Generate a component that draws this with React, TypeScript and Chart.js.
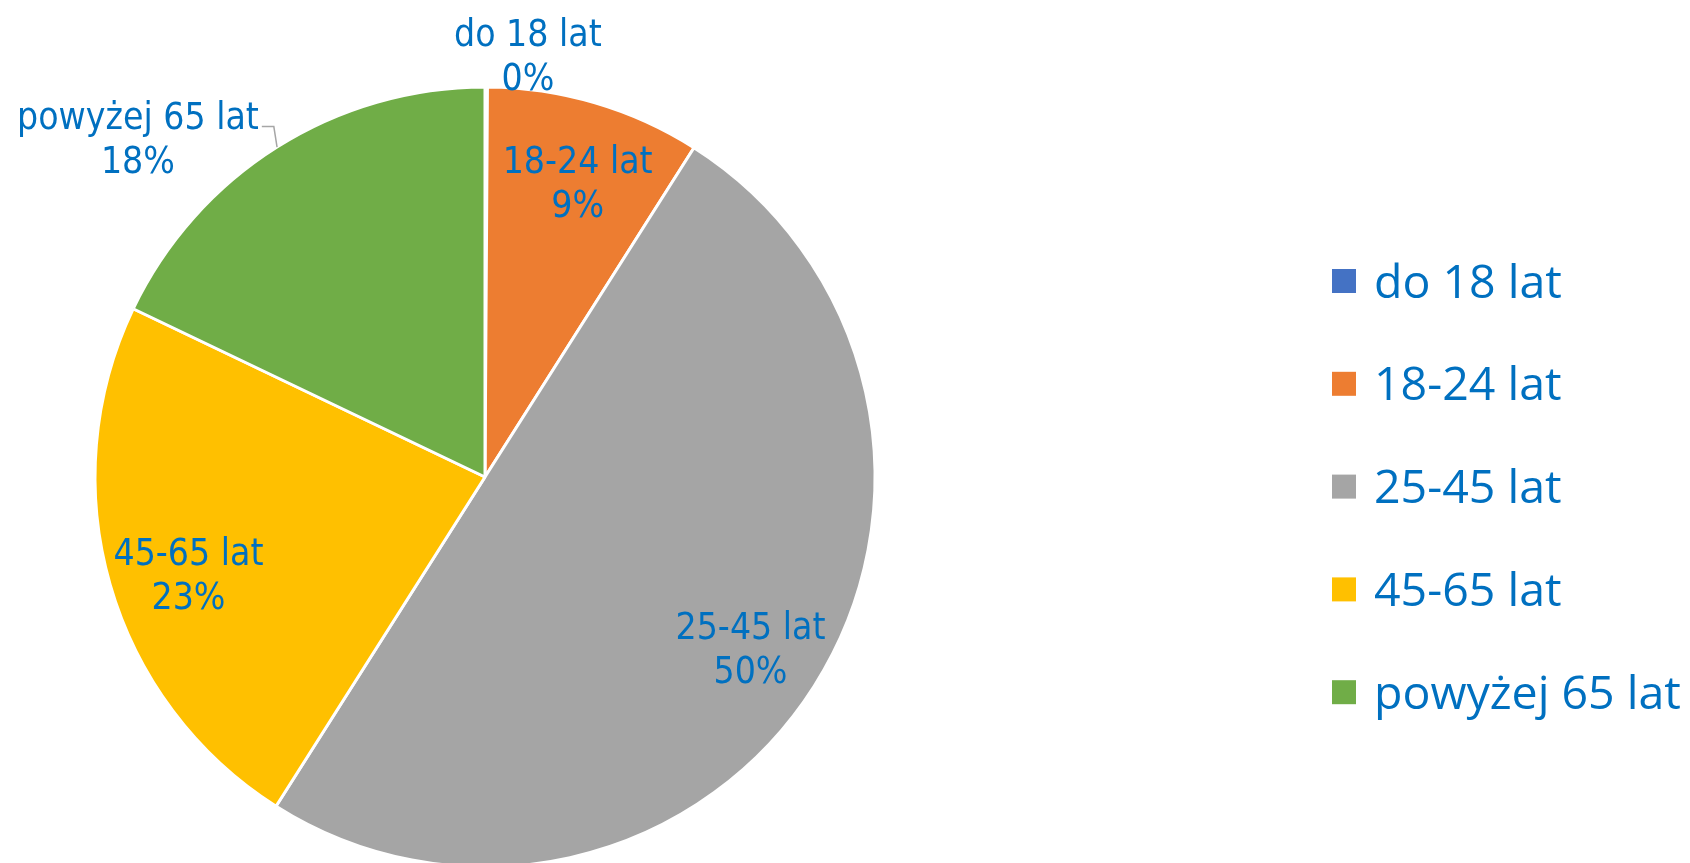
import React, { useEffect, useRef } from "react";
import { Chart, registerables } from "chart.js";

Chart.register(...registerables);

const categories = ["do 18 lat", "18-24 lat", "25-45 lat", "45-65 lat", "powyżej 65 lat"];
const shares = [0.1, 8.9, 50.0, 23.1, 17.9];
const sliceColors = ["#4472C4", "#ED7D31", "#A5A5A5", "#FFC000", "#70AD47"];

const LABEL_COLOR = "#0070C0";

const dataLabelPlugin = {
  id: "pieDataLabels",
  afterDatasetsDraw(chart: any, _args: any, opts: any) {
    const ctx = chart.ctx;
    const meta = chart.getDatasetMeta(0);
    const ds = chart.data.datasets[0];
    const total = ds.data.reduce((a: number, b: number) => a + b, 0);
    ctx.save();
    ctx.font = opts.font;
    ctx.fillStyle = LABEL_COLOR;
    ctx.textAlign = "center";
    ctx.textBaseline = "alphabetic";
    meta.data.forEach((arc: any, i: number) => {
      const { x, y, startAngle, endAngle, outerRadius } = arc.getProps(
        ["x", "y", "startAngle", "endAngle", "outerRadius"],
        true
      );
      const mid = (startAngle + endAngle) / 2;
      const place = opts.outside[i];
      let px: number, py: number;
      if (place) {
        const a = ((place.angle - 90) * Math.PI) / 180;
        px = x + Math.cos(a) * outerRadius * place.factor;
        py = y + Math.sin(a) * outerRadius * place.factor;
      } else {
        const adj = opts.inside[i] || { dA: 0, f: 0.8 };
        const a = mid + (adj.dA * Math.PI) / 180;
        px = x + Math.cos(a) * outerRadius * adj.f;
        py = y + Math.sin(a) * outerRadius * adj.f;
      }
      const pct = Math.round((ds.data[i] / total) * 100) + "%";
      const line1 = chart.data.labels[i];
      const half = opts.lineGap / 2;
      const cap = opts.capHalf;
      ctx.fillStyle = LABEL_COLOR;
      ctx.fillText(line1, px, py - half + cap);
      ctx.fillText(pct, px, py + half + cap);
      if (place && place.leader) {
        const w = ctx.measureText(line1).width;
        const lx = px + w / 2 + 3;
        const ly = py - half + cap - 2;
        const ex = x + Math.cos(mid) * outerRadius;
        const ey = y + Math.sin(mid) * outerRadius;
        ctx.strokeStyle = "#A6A6A6";
        ctx.lineWidth = 1.5;
        ctx.beginPath();
        ctx.moveTo(lx, ly);
        ctx.lineTo(lx + 12, ly);
        ctx.lineTo(ex, ey);
        ctx.stroke();
      }
    });
    ctx.restore();
  },
};

const legendPlugin = {
  id: "sideLegend",
  afterDraw(chart: any, _args: any, opts: any) {
    const ctx = chart.ctx;
    const ds = chart.data.datasets[0];
    ctx.save();
    ctx.font = opts.font;
    ctx.textAlign = "left";
    ctx.textBaseline = "alphabetic";
    chart.data.labels.forEach((lab: string, i: number) => {
      const cy = opts.top + i * opts.step;
      ctx.fillStyle = ds.backgroundColor[i];
      ctx.fillRect(opts.boxX, cy - opts.box / 2, opts.box, opts.box);
      ctx.fillStyle = LABEL_COLOR;
      ctx.fillText(lab, opts.textX, cy + opts.capHalf);
    });
    ctx.restore();
  },
};

export default function App() {
  const ref = useRef<HTMLCanvasElement>(null);
  useEffect(() => {
    if (!ref.current) return;
    const chart = new Chart(ref.current, {
      type: "pie",
      data: {
        labels: categories,
        datasets: [
          {
            data: shares,
            backgroundColor: sliceColors,
            borderColor: "#FFFFFF",
            borderWidth: 3,
            radius: 390,
          } as any,
        ],
      },
      options: {
        responsive: false,
        animation: false,
        events: [],
        layout: { padding: { left: 95, right: 815, top: 87, bottom: 13 } },
        plugins: {
          legend: { display: false },
          tooltip: { enabled: false },
          pieDataLabels: {
            font: '37px "DejaVu Sans Condensed", "DejaVu Sans", sans-serif',
            lineGap: 44,
            capHalf: 13.4,
            inside: {
              1: { dA: 1.0, f: 0.795 },
              2: { dA: 0.3, f: 0.809 },
              3: { dA: -2.1, f: 0.8 },
            },
            outside: {
              0: { angle: 5.8, factor: 1.088 },
              4: { angle: 314.4, factor: 1.2456, leader: true },
            },
          },
          sideLegend: {
            font: '46.5px "Open Sans", sans-serif',
            top: 281,
            step: 102.8,
            box: 24,
            boxX: 1332,
            textX: 1374,
            capHalf: 16.6,
          },
        } as any,
      },
      plugins: [dataLabelPlugin, legendPlugin],
    });
    return () => chart.destroy();
  }, []);
  return (
    <div style={{ position: "fixed", left: 0, top: 0, width: 1690, height: 880, background: "#fff" }}>
      <canvas ref={ref} width={1690} height={880} style={{ display: "block" }} />
    </div>
  );
}
